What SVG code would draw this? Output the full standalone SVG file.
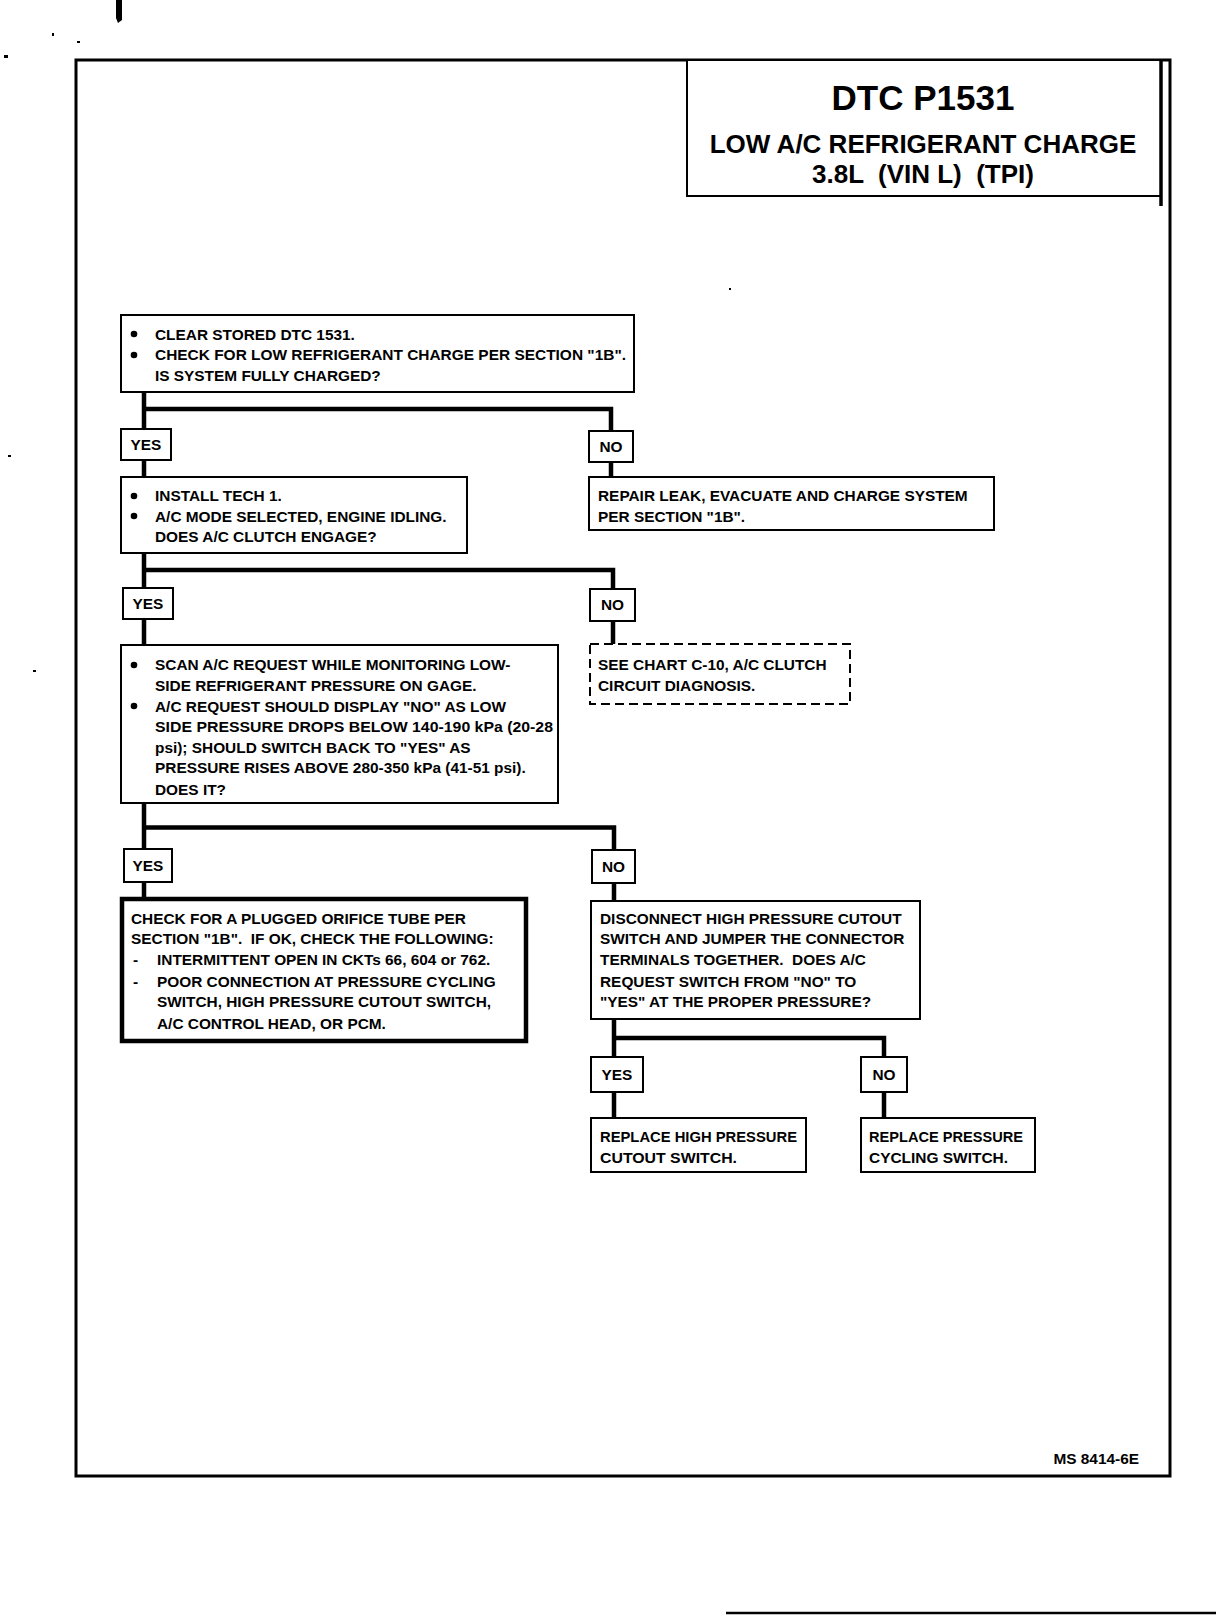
<svg xmlns="http://www.w3.org/2000/svg" width="1216" height="1616" viewBox="0 0 1216 1616">
<style>
.bx{fill:#fff;stroke:#000;stroke-width:2}
.thick{fill:#fff;stroke:#000;stroke-width:4.5}
.dash{fill:#fff;stroke:#000;stroke-width:2;stroke-dasharray:9 5}
.t{font-family:"Liberation Sans",Arial,sans-serif;font-weight:bold;font-size:15.4px;fill:#000}
.lb{font-family:"Liberation Sans",Arial,sans-serif;font-weight:bold;font-size:15.4px;fill:#000;text-anchor:middle}
.hd{font-family:"Liberation Sans",Arial,sans-serif;font-weight:bold;fill:#000;text-anchor:middle}
.c{fill:none;stroke:#000;stroke-width:4.5}
.b{fill:#000}
</style>
<rect width="1216" height="1616" fill="#fff"/>
<!-- scan marks -->
<path d="M116,0 H122 L122,20 L118,23 L116,18 Z" fill="#000"/>
<rect x="4" y="55" width="4" height="3" fill="#000"/>
<rect x="52" y="33" width="2" height="3" fill="#000"/>
<rect x="77" y="41" width="3" height="2" fill="#000"/>
<rect x="8" y="455" width="3" height="2" fill="#000"/>
<rect x="33" y="670" width="3" height="2" fill="#000"/>
<rect x="729" y="288" width="2" height="2" fill="#000"/>
<line x1="726" y1="1613" x2="1216" y2="1613" stroke="#000" stroke-width="2.5"/>
<!-- outer frame -->
<rect x="76" y="60" width="1094" height="1416" fill="none" stroke="#000" stroke-width="3"/>
<g id="title">
<rect x="687" y="60" width="474" height="136" fill="#fff" stroke="#000" stroke-width="2"/>
<line x1="1161" y1="60" x2="1161" y2="206" stroke="#000" stroke-width="3.5"/>
<text class="hd" x="923" y="110" font-size="35">DTC P1531</text>
<text class="hd" x="923" y="153" font-size="26">LOW A/C REFRIGERANT CHARGE</text>
<text class="hd" x="923" y="183" font-size="26" xml:space="preserve">3.8L  (VIN L)  (TPI)</text>
</g>
<g id="connectors">
<path class="c" d="M144,392 V429 M144,409 H611 V431"/>
<path class="c" d="M144,460 V477 M611,462 V477"/>
<path class="c" d="M144,553 V588 M144,570 H613 V589"/>
<path class="c" d="M144,619 V645 M613,621 V644"/>
<path class="c" d="M144,803 V849 M144,827.5 H614 V850"/>
<path class="c" d="M144,882 V899 M614,883 V901"/>
<path class="c" d="M614,1019 V1057 M614,1038 H884 V1057"/>
<path class="c" d="M614,1092 V1118 M884,1092 V1118"/>
</g>
<g id="n1">
<rect class="bx" x="121" y="315" width="513" height="77"/>
<circle class="b" cx="134" cy="334" r="3.3"/>
<circle class="b" cx="134" cy="355" r="3.3"/>
<text class="t" x="155" y="339.5">CLEAR STORED DTC 1531.</text>
<text class="t" x="155" y="360" textLength="471" lengthAdjust="spacingAndGlyphs">CHECK FOR LOW REFRIGERANT CHARGE PER SECTION "1B".</text>
<text class="t" x="155" y="380.5">IS SYSTEM FULLY CHARGED?</text>
</g>
<g id="yes1"><rect class="bx" x="121" y="429" width="50" height="31"/><text class="lb" x="146" y="450">YES</text></g>
<g id="no1"><rect class="bx" x="589" y="431" width="44" height="31"/><text class="lb" x="611" y="452">NO</text></g>
<g id="n2">
<rect class="bx" x="121" y="477" width="346" height="76"/>
<circle class="b" cx="134" cy="496" r="3.3"/>
<circle class="b" cx="134" cy="516" r="3.3"/>
<text class="t" x="155" y="501">INSTALL TECH 1.</text>
<text class="t" x="155" y="522">A/C MODE SELECTED, ENGINE IDLING.</text>
<text class="t" x="155" y="542">DOES A/C CLUTCH ENGAGE?</text>
</g>
<g id="n_repair">
<rect class="bx" x="589" y="477" width="405" height="53"/>
<text class="t" x="598" y="501">REPAIR LEAK, EVACUATE AND CHARGE SYSTEM</text>
<text class="t" x="598" y="522">PER SECTION "1B".</text>
</g>
<g id="yes2"><rect class="bx" x="123" y="588" width="50" height="31"/><text class="lb" x="148" y="609">YES</text></g>
<g id="no2"><rect class="bx" x="590" y="589" width="45" height="32"/><text class="lb" x="612.5" y="610">NO</text></g>
<g id="n_chart">
<rect class="dash" x="590" y="644" width="260" height="60"/>
<text class="t" x="598" y="670">SEE CHART C-10, A/C CLUTCH</text>
<text class="t" x="598" y="691">CIRCUIT DIAGNOSIS.</text>
</g>
<g id="n3">
<rect class="bx" x="121" y="645" width="437" height="158"/>
<circle class="b" cx="134" cy="665" r="3.3"/>
<circle class="b" cx="134" cy="706" r="3.3"/>
<text class="t" x="155" y="670">SCAN A/C REQUEST WHILE MONITORING LOW-</text>
<text class="t" x="155" y="691">SIDE REFRIGERANT PRESSURE ON GAGE.</text>
<text class="t" x="155" y="711.5">A/C REQUEST SHOULD DISPLAY "NO" AS LOW</text>
<text class="t" x="155" y="732" textLength="398" lengthAdjust="spacingAndGlyphs">SIDE PRESSURE DROPS BELOW 140-190 kPa (20-28</text>
<text class="t" x="155" y="752.5">psi); SHOULD SWITCH BACK TO "YES" AS</text>
<text class="t" x="155" y="773">PRESSURE RISES ABOVE 280-350 kPa (41-51 psi).</text>
<text class="t" x="155" y="795">DOES IT?</text>
</g>
<g id="yes3"><rect class="bx" x="124" y="849" width="48" height="33"/><text class="lb" x="148" y="871">YES</text></g>
<g id="no3"><rect class="bx" x="592" y="850" width="43" height="33"/><text class="lb" x="613.5" y="872">NO</text></g>
<g id="n4">
<rect class="thick" x="122" y="899" width="404" height="142"/>
<text class="t" x="131" y="924">CHECK FOR A PLUGGED ORIFICE TUBE PER</text>
<text class="t" x="131" y="944" xml:space="preserve">SECTION "1B".  IF OK, CHECK THE FOLLOWING:</text>
<text class="t" x="133" y="965">-</text>
<text class="t" x="157" y="965">INTERMITTENT OPEN IN CKTs 66, 604 or 762.</text>
<text class="t" x="133" y="986.5">-</text>
<text class="t" x="157" y="986.5">POOR CONNECTION AT PRESSURE CYCLING</text>
<text class="t" x="157" y="1007">SWITCH, HIGH PRESSURE CUTOUT SWITCH,</text>
<text class="t" x="157" y="1029">A/C CONTROL HEAD, OR PCM.</text>
</g>
<g id="n5">
<rect class="bx" x="591" y="901" width="329" height="118"/>
<text class="t" x="600" y="924">DISCONNECT HIGH PRESSURE CUTOUT</text>
<text class="t" x="600" y="944">SWITCH AND JUMPER THE CONNECTOR</text>
<text class="t" x="600" y="965" xml:space="preserve">TERMINALS TOGETHER.  DOES A/C</text>
<text class="t" x="600" y="986.5">REQUEST SWITCH FROM "NO" TO</text>
<text class="t" x="600" y="1007">"YES" AT THE PROPER PRESSURE?</text>
</g>
<g id="yes4"><rect class="bx" x="591" y="1057" width="52" height="35"/><text class="lb" x="617" y="1080">YES</text></g>
<g id="no4"><rect class="bx" x="861" y="1057" width="46" height="35"/><text class="lb" x="884" y="1080">NO</text></g>
<g id="n6">
<rect class="bx" x="591" y="1118" width="215" height="54"/>
<text class="t" x="600" y="1142" textLength="197" lengthAdjust="spacingAndGlyphs">REPLACE HIGH PRESSURE</text>
<text class="t" x="600" y="1163" textLength="137" lengthAdjust="spacingAndGlyphs">CUTOUT SWITCH.</text>
</g>
<g id="n7">
<rect class="bx" x="861" y="1118" width="174" height="54"/>
<text class="t" x="869" y="1142" textLength="154" lengthAdjust="spacingAndGlyphs">REPLACE PRESSURE</text>
<text class="t" x="869" y="1163" textLength="139" lengthAdjust="spacingAndGlyphs">CYCLING SWITCH.</text>
</g>
<text class="t" x="1139" y="1464" font-size="13.5" text-anchor="end">MS 8414-6E</text>
</svg>
